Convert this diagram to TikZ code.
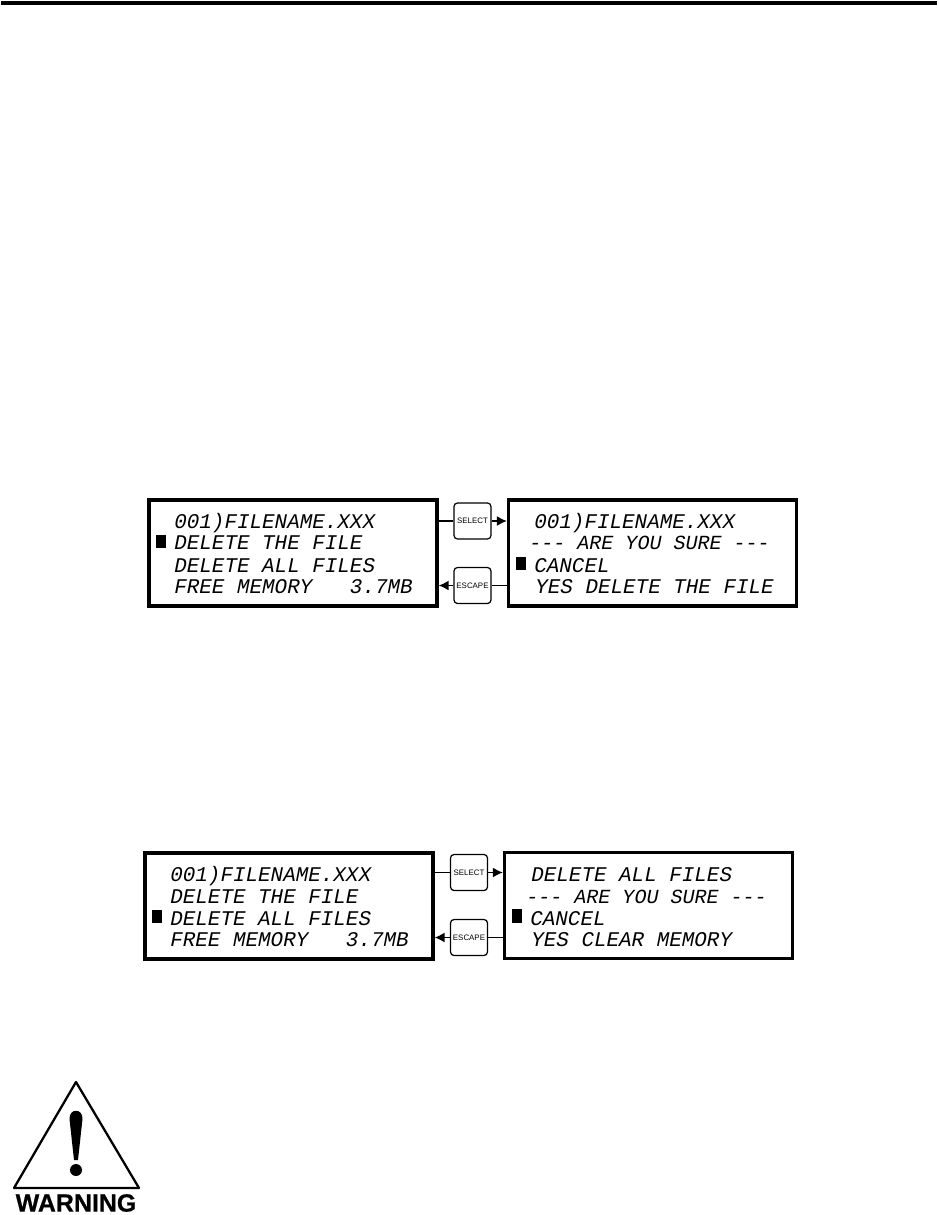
\documentclass[tikz,border=0pt]{standalone}
\usepackage{fontspec}
\setmainfont{Liberation Sans}
\newfontfamily\lcdfont{Liberation Mono}
\newfontfamily\warnfont[BoldFeatures={FakeBold=0.6}]{Liberation Sans}
\usetikzlibrary{arrows.meta}

\tikzset{
  panel/.style={draw, line width=2pt, minimum width=5.76cm, minimum height=2.12cm, inner sep=0pt},
  keybox/.style={draw, line width=0.7pt, rounded corners=2pt, minimum width=0.74cm, minimum height=0.72cm, inner sep=0pt, font=\fontsize{4.5}{5}\selectfont},
  lcdline/.style={anchor=base west, inner sep=0pt, font=\lcdfont\itshape\fontsize{11.9}{14}\selectfont},
  lcddash/.style={lcdline, font=\lcdfont\itshape\fontsize{11.4}{14}\selectfont},
  cursor/.style={fill=black, minimum width=0.2cm, minimum height=0.27cm, inner sep=0pt},
  wire/.style={line width=0.7pt},
  wirearrow/.style={line width=0.7pt, -{Latex[length=5.6pt, width=5.6pt]}}
}

\begin{document}
\begin{tikzpicture}[x=0.02cm, y=-0.02cm]
        \useasboundingbox (0,0) rectangle (938,1215);

        % top rule
        \coordinate (ruleL) at (1,3);
        \coordinate (ruleR) at (937,3);
        \draw[line width=2.5pt] (ruleL) -- (ruleR);

        % first pair of displays
        \node[panel] (pA) at (293,553) {};
        \node[panel] (pB) at (652.5,553) {};
        \node[keybox] (selA) at (472.5,521) {SELECT};
        \node[keybox] (escA) at (472.5,585.5) {ESCAPE};
        \foreach \i/\yy/\txt in {1/528/001)FILENAME.XXX, 2/549/DELETE THE FILE, 3/572/DELETE ALL FILES, 4/593/FREE MEMORY~~~3.7MB} {
          \node[lcdline] (pAt\i) at (174,\yy) {\txt};
        }
        \node[lcdline] (pBt1) at (534,528) {001)FILENAME.XXX};
        \node[lcddash] (pBt2) at (529,549) {--{}- ARE YOU SURE --{}-};
        \node[lcdline] (pBt3) at (534,572) {CANCEL};
        \node[lcdline] (pBt4) at (535,593) {YES DELETE THE FILE};
        \node[cursor] (curA) at (161,541.5) {};
        \node[cursor] (curB) at (521,563.5) {};
        \draw[wire] (selA.west -| pA.east) -- (selA.west);
        \draw[wirearrow] (selA.east) -- (selA.east -| pB.west);
        \draw[wire] (escA.east -| pB.west) -- (escA.east);
        \draw[wirearrow] (escA.west) -- (escA.west -| pA.east);

        % second pair of displays
        \node[panel] (pC) at (289,906) {};
        \node[panel] (pD) at (648.5,905.5) {};
        \node[keybox] (selB) at (469,872.5) {SELECT};
        \node[keybox] (escB) at (469,937.5) {ESCAPE};
        \foreach \i/\yy/\txt in {1/881/001)FILENAME.XXX, 2/903/DELETE THE FILE, 3/925/DELETE ALL FILES, 4/946/FREE MEMORY~~~3.7MB} {
          \node[lcdline] (pCt\i) at (170,\yy) {\txt};
        }
        \node[lcdline] (pDt1) at (531,881) {DELETE ALL FILES};
        \node[lcddash] (pDt2) at (526,903) {--{}- ARE YOU SURE --{}-};
        \node[lcdline] (pDt3) at (530,925) {CANCEL};
        \node[lcdline] (pDt4) at (531,946) {YES CLEAR MEMORY};
        \node[cursor] (curC) at (157,916.5) {};
        \node[cursor] (curD) at (517,916) {};
        \draw[wire] (selB.west -| pC.east) -- (selB.west);
        \draw[wirearrow] (selB.east) -- (selB.east -| pD.west);
        \draw[wire] (escB.east -| pD.west) -- (escB.east);
        \draw[wirearrow] (escB.west) -- (escB.west -| pC.east);

        % warning sign
        \draw[line width=1.3pt, line join=round] (76,1082) -- (14,1188) -- (139,1188) -- cycle;
        \fill (69.5,1119) .. controls (69,1108) and (83,1108) .. (82.5,1119) -- (78,1160) -- (74,1160) -- cycle;
        \fill (76,1170) circle (6);
        \node[inner sep=0pt, font=\warnfont\bfseries\fontsize{14.2}{15}\selectfont] (warn) at (76,1203) {WARNING};
\end{tikzpicture}
\end{document}
